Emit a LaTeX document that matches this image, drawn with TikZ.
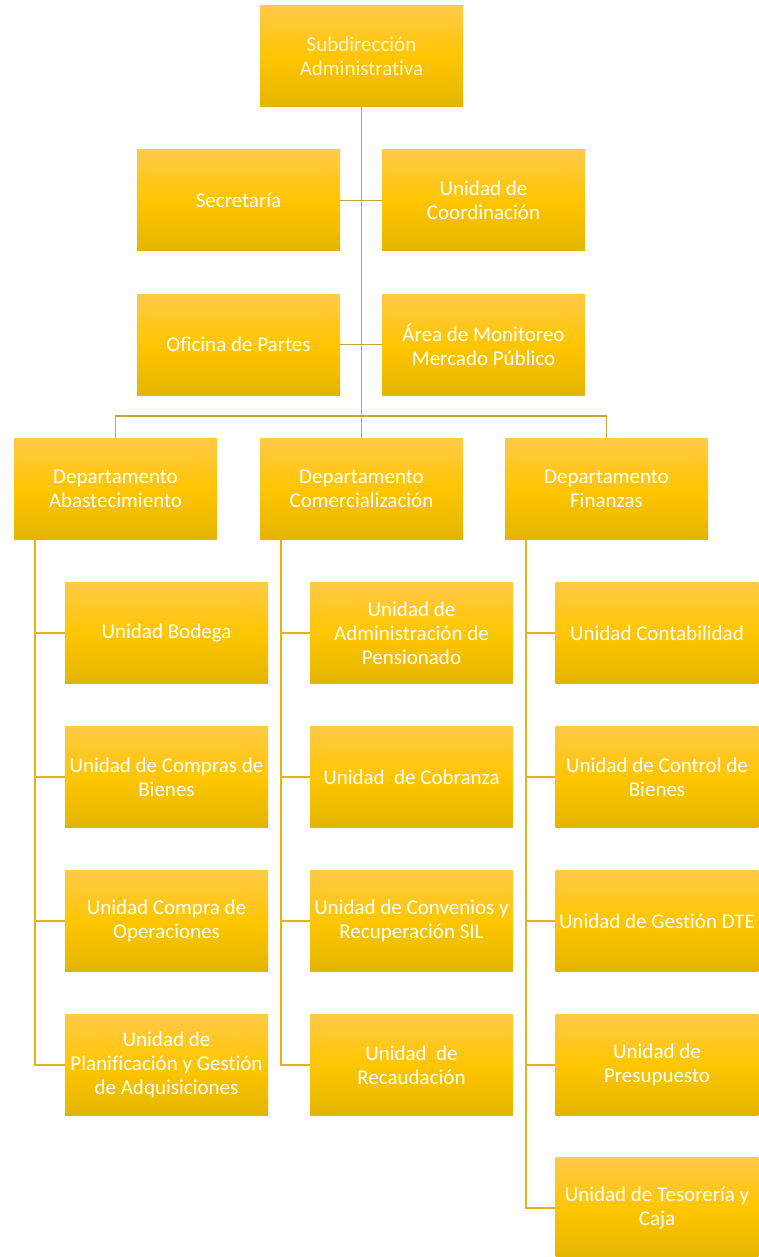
\documentclass[tikz,border=0pt]{standalone}
\usepackage{fontspec}
\setmainfont{Carlito}[Ligatures=NoCommon]
\usetikzlibrary{calc}

\definecolor{orotop}{HTML}{FFC94A}
\definecolor{oromid}{HTML}{FFC600}
\definecolor{orobot}{HTML}{E4B500}
\definecolor{lineatop}{HTML}{C9A440}
\definecolor{lineadep}{HTML}{E6B410}
\definecolor{textopal}{HTML}{FFF3D2}

\begin{document}
\begin{tikzpicture}[x=1pt,y=-1pt,
    caja/.style={rectangle, minimum width=203pt, minimum height=101pt, inner sep=0pt,
        top color=orotop, bottom color=orobot, middle color=oromid,
        text=white, align=center, font=\fontsize{21}{24}\selectfont},
    enlace/.style={draw=lineatop, line width=1.6pt},
    ramal/.style={draw=lineadep, line width=1.6pt}]
    \useasboundingbox (0,0) rectangle (758,1257);
    % Dirección
    \node[caja, text=textopal] (sub) at (361.5,56.5) {Subdirección\\Administrativa};
    % Apoyo
    \node[caja] (secr) at (238.5,200.5) {Secretaría};
    \node[caja] (coord) at (483.5,200.5) {Unidad de\\Coordinación};
    \node[caja] (partes) at (238.5,344.5) {Oficina de Partes};
    \node[caja] (monit) at (483.5,344.5) {Área de Monitoreo\\Mercado Público};
    % Departamentos
    \node[caja] (abast) at (115.5,488.5) {Departamento\\Abastecimiento};
    \node[caja] (comer) at (361.5,488.5) {Departamento\\Comercialización};
    \node[caja] (finan) at (606.5,488.5) {Departamento\\Finanzas};
    % Unidades de Abastecimiento
    \node[caja] (bodega) at (166.5,633) {Unidad Bodega};
    \node[caja] (bienes) at (166.5,777) {Unidad de Compras de\\Bienes};
    \node[caja] (operac) at (166.5,921) {Unidad Compra de\\Operaciones};
    \node[caja] (planif) at (166.5,1065) {Unidad de\\Planificación y Gestión\\de Adquisiciones};
    % Unidades de Comercialización
    \node[caja] (pensio) at (411.5,633) {Unidad de\\Administración de\\Pensionado};
    \node[caja] (cobran) at (411.5,777) {Unidad~ de Cobranza};
    \node[caja] (conven) at (411.5,921) {Unidad de Convenios y\\Recuperación SIL};
    \node[caja] (recaud) at (411.5,1065) {Unidad~ de\\Recaudación};
    % Unidades de Finanzas
    \node[caja] (contab) at (657,633) {Unidad Contabilidad};
    \node[caja] (control) at (657,777) {Unidad de Control de\\Bienes};
    \node[caja] (dte) at (657,921) {Unidad de Gestión DTE};
    \node[caja] (presup) at (657,1065) {Unidad de\\Presupuesto};
    \node[caja] (tesor) at (657,1208) {Unidad de Tesorería y\\Caja};
    % Conexiones superiores
    \coordinate (bus) at (361.5,416);
    \draw[enlace] (sub.south) -- (bus);
    \draw[enlace] (secr.east) -- (coord.west);
    \draw[enlace] (partes.east) -- (monit.west);
    \draw[enlace] (abast.north) |- (bus) -| (finan.north);
    \draw[enlace] (bus) -- (comer.north);
    % Ramas de departamentos
    \coordinate (ra) at ($(abast.south west)+(21,0)$);
    \coordinate (rc) at ($(comer.south west)+(21,0)$);
    \coordinate (rf) at ($(finan.south west)+(21,0)$);
    \foreach \u in {bodega,bienes,operac,planif} \draw[ramal] (ra) |- (\u.west);
    \foreach \u in {pensio,cobran,conven,recaud} \draw[ramal] (rc) |- (\u.west);
    \foreach \u in {contab,control,dte,presup,tesor} \draw[ramal] (rf) |- (\u.west);
\end{tikzpicture}
\end{document}
